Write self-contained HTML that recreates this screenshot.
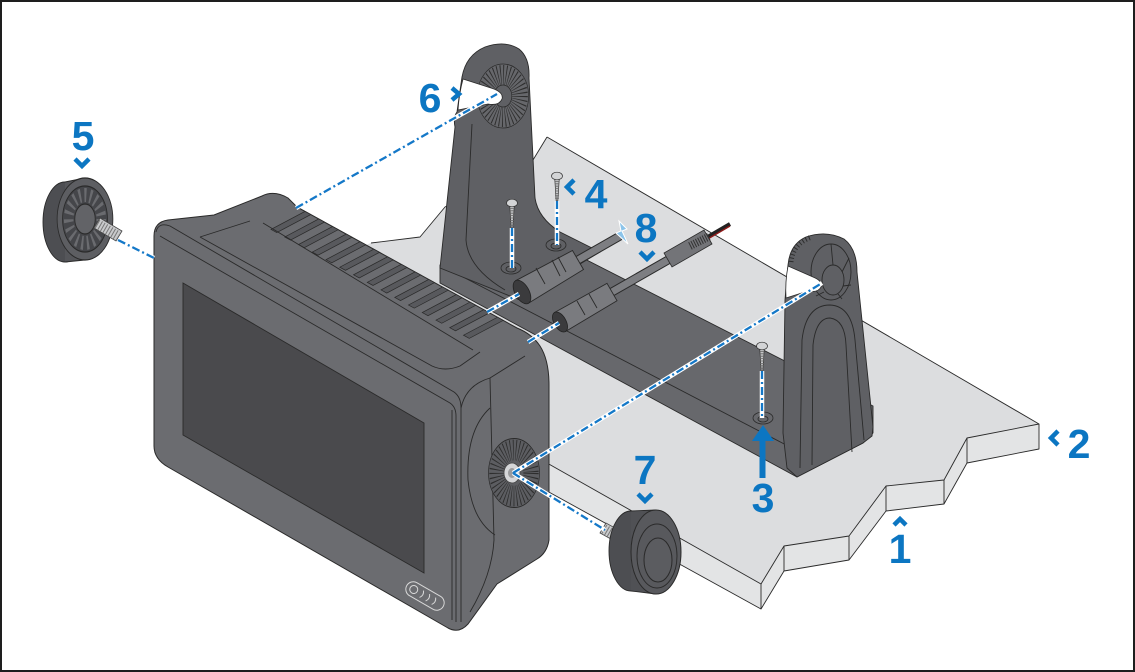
<!DOCTYPE html>
<html><head><meta charset="utf-8"><style>
html,body{margin:0;padding:0;background:#fff}
svg{display:block}
.l{fill:none;stroke:#2a2a2a;stroke-width:.9;stroke-linejoin:round}
.dw{fill:none;stroke:#fff;stroke-width:4.5}
.db{fill:none;stroke:#1478c8;stroke-width:2.3;stroke-dasharray:8 3 2 3}
.t{font-family:"Liberation Sans",Arial,sans-serif;font-weight:bold;font-size:41px;fill:#0c76c2;text-anchor:middle}
.ch{fill:none;stroke:#0c76c2;stroke-width:4.5;stroke-linejoin:miter}
</style></head><body>
<svg width="1135" height="672" viewBox="0 0 1135 672" xmlns="http://www.w3.org/2000/svg">
<defs>
<polygon id="gr" points="305,211.4 310.75,214.56 276.75,232.56 271,229.4" fill="#58595d" stroke="#2a2a2a" stroke-width=".7"/>
<g id="scr">
<polygon points="-2.3,2 2.3,2 0.8,25 -0.8,25" fill="#c5c6c8" stroke="#333" stroke-width=".7"/>
<line x1="0" y1="5" x2="0" y2="24" stroke="#666" stroke-width="4" stroke-dasharray="0.8 1.6"/>
<ellipse cx="0" cy="0" rx="5.5" ry="3.8" fill="#d3d4d6" stroke="#333" stroke-width=".7"/>
</g>
<g id="hole">
<ellipse cx="0" cy="0" rx="10" ry="6" fill="none" stroke="#2a2a2a" stroke-width=".8"/>
<ellipse cx="0" cy="1" rx="5" ry="3" fill="none" stroke="#2a2a2a" stroke-width=".8"/>
</g>
</defs>
<rect x="1" y="1" width="1133" height="670" fill="#fff" stroke="#1e1e1e" stroke-width="2"/>

<!-- platform -->
<polygon fill="#dcdddf" points="547,137 1039,424 967,438 944,480 886,486 849,536 784,546 761,584 547,463 430,470 330,258 371,243 420,237 445,207 533,160"/>
<polygon fill="#e3e4e5" points="1039,424 1039,449 967,463 944,504 886,511 849,560 784,571 761,609 547,491 547,463 761,584 784,546 849,536 886,486 944,480 967,438"/>
<path class="l" d="M547,137 L1039,424 L967,438 L944,480 L886,486 L849,536 L784,546 L761,584 L547,463"/>
<path class="l" d="M1039,424 L1039,449 L967,463 L944,504 L886,511 L849,560 L784,571 L761,609 L547,491"/>
<path class="l" d="M967,438 L967,463 M944,480 L944,504 M886,486 L886,511 M849,536 L849,560 M784,546 L784,571 M761,584 L761,609"/>
<path class="l" d="M547,137 L533,160 L445,207 L420,237 L371,243"/>

<!-- base -->
<polygon fill="#67686c" stroke="#2a2a2a" stroke-width=".9" points="440,265 518,225 873,406 873,433 863,443 797,477 440,283"/>
<path class="l" d="M440,265 L790,447"/>

<!-- left upright -->
<path fill="#5f6064" stroke="#2a2a2a" stroke-width=".9" d="M462,77 Q466,55 485,47 Q505,40 519,49 Q530,58 529,78 L535,198 Q538,218 560,232 L600,252 L520,300 L440,268 L455,127 Q453,117 457,112 Z"/>
<path class="l" d="M472,124 L466,240 Q468,268 505,290"/>
<g transform="translate(503,96) scale(0.8,1)">
<circle r="32" fill="#66676b" stroke="#2a2a2a" stroke-width=".8"/>
<circle r="21" fill="none" stroke="#2e2e2e" stroke-width="20" stroke-dasharray="0.9 2.4"/>
<circle r="11" fill="#5f6064" stroke="#2a2a2a" stroke-width=".8"/>
</g>
<path fill="#fff" stroke="#2a2a2a" stroke-width=".8" d="M458,110 Q459,94 463,79 L491,88 Q504,92 502,99 Q499,106 488,104 Z"/>

<!-- right upright -->
<path fill="#5f6064" stroke="#2a2a2a" stroke-width=".9" d="M788,265 Q790,244 806,237 Q826,230 844,239 Q857,249 857,272 L873,427 L872,436 L863,443 L797,477 L787,468 L783,433 L785,300 Z"/>
<path fill="none" stroke="#2e2e2e" stroke-width="5" stroke-dasharray="1 2.5" d="M791,262 Q793,243 812,237"/>
<ellipse cx="831" cy="272" rx="20" ry="28" class="l"/>
<ellipse cx="833" cy="280" rx="11" ry="15" class="l"/>
<path class="l" d="M831,244 L833,265 M849,258 L842,272 M851,285 L843,286 M842,299 L838,294 M816,296 L824,292"/>
<path class="l" d="M800,468 L802,340 Q806,305 830,305 Q852,306 855,340 L864,440"/>
<path class="l" d="M812,465 L813,345 Q816,318 830,318 Q845,320 846,345 L852,452"/>
<path fill="#fff" stroke="#2a2a2a" stroke-width=".8" d="M788,266 L813,277 Q823,281 821,287 Q818,293 808,291 L786,298 Q785,282 788,266 Z"/>

<!-- holes & screws -->
<use href="#hole" transform="translate(511,268)"/>
<use href="#hole" transform="translate(556,245)"/>
<use href="#hole" transform="translate(763,418)"/>
<use href="#scr" transform="translate(512,203)"/>
<use href="#scr" transform="translate(557,176)"/>
<use href="#scr" transform="translate(762,346)"/>

<!-- connectors -->
<line x1="578" y1="260" x2="620" y2="236" stroke="#2a2a2a" stroke-width="9"/>
<line x1="578" y1="260" x2="620" y2="236" stroke="#7d7e82" stroke-width="7"/>
<polygon points="528.4,303.3 515.6,280.7 572.5,250.5 583.5,269.5" fill="#7a7b7f" stroke="#2a2a2a" stroke-width=".9"/>
<path class="l" d="M545,284 L536,268 M560,276 L552,260 M566,272 L558,257"/>
<ellipse cx="522" cy="292" rx="13" ry="7" transform="rotate(60.3 522 292)" fill="#3b3b3d" stroke="#222" stroke-width=".8"/>
<line x1="730" y1="224" x2="706" y2="238" stroke="#222" stroke-width="4"/>
<line x1="730" y1="226" x2="706" y2="240" stroke="#8b1a1a" stroke-width="1.5"/>
<line x1="612" y1="292" x2="668" y2="260" stroke="#2a2a2a" stroke-width="9"/>
<line x1="612" y1="292" x2="668" y2="260" stroke="#7d7e82" stroke-width="7"/>
<polygon points="664,253 672,267 712,244 704,230" fill="#737478" stroke="#2a2a2a" stroke-width=".8"/>
<line x1="690" y1="246" x2="710" y2="236" stroke="#333" stroke-width="8" stroke-dasharray="1 1.5"/>
<polygon points="565.5,331.5 554.5,312.5 607,283.3 617,300.7" fill="#7a7b7f" stroke="#2a2a2a" stroke-width=".9"/>
<path class="l" d="M585,315 L577,301 M597,308 L589,294"/>
<ellipse cx="560" cy="322" rx="11" ry="6" transform="rotate(60.3 560 322)" fill="#3b3b3d" stroke="#222" stroke-width=".8"/>
<polygon points="619,221 627,229 622,231 628,244 616,233 621,231" fill="#8cc4ea" stroke="#fff" stroke-width="1"/>

<!-- display housing -->
<path fill="#6b6c70" stroke="#2a2a2a" stroke-width="1" d="M154,236 Q154,222 168,220 L214,215 L262,196 Q274,190 288,198 L297,207 L517,328 Q532,334 540,346 Q549,360 549,385 L549,540 Q547,553 537,559 L497,584 L468,624 Q459,634 448,628 L168,467 Q154,459 154,446 Z"/>
<use href="#gr"/>
<use href="#gr" transform="translate(13.75,7.56)"/>
<use href="#gr" transform="translate(27.5,15.12)"/>
<use href="#gr" transform="translate(41.25,22.68)"/>
<use href="#gr" transform="translate(55,30.24)"/>
<use href="#gr" transform="translate(68.75,37.8)"/>
<use href="#gr" transform="translate(82.5,45.36)"/>
<use href="#gr" transform="translate(96.25,52.92)"/>
<use href="#gr" transform="translate(110,60.48)"/>
<use href="#gr" transform="translate(123.75,68.04)"/>
<use href="#gr" transform="translate(137.5,75.6)"/>
<use href="#gr" transform="translate(151.25,83.16)"/>
<use href="#gr" transform="translate(165,90.72)"/>
<use href="#gr" transform="translate(178.75,98.28)"/>
<use href="#gr" transform="translate(192.5,105.84)"/>
<path class="l" d="M263,223 L473,350"/>
<path class="l" d="M200,237 L250,221 M200,237 L432,366 Q445,372 460,366 L480,352"/>
<path class="l" d="M156,232 Q158,222 170,226 L454,392 Q461,397 461,408 L461,622"/>
<path class="l" d="M160,236 L450,403 Q456,407 456,416 L456,622 M452,410 L452,620"/>
<path class="l" d="M461,408 Q466,385 490,378 L525,356 M490,378 L494,540 Q492,575 470,612"/>
<path class="l" d="M490,408 Q466,430 468,480 Q472,520 495,535"/>
<polygon points="183,283 424,423 424,573 183,435" fill="#4a4a4d" stroke="#2a2a2a" stroke-width=".9"/>
<g transform="translate(425,596) rotate(30)" fill="none" stroke="#d8d8d8" stroke-width="1">
<rect x="-21" y="-7.5" width="42" height="15" rx="7.5"/>
<circle cx="-13" cy="0" r="4"/>
<path d="M-4,-4 Q-1,0 -4,4 M3,-4 Q6,0 3,4 M10,-4 Q13,0 10,4"/>
</g>
<!-- hub gear -->
<g transform="translate(514,473) scale(0.85,1.15)">
<circle r="30" fill="#5c5d61" stroke="#2a2a2a" stroke-width=".8"/>
<circle r="20" fill="none" stroke="#2e2e2e" stroke-width="18" stroke-dasharray="0.8 2.3"/>
</g>
<ellipse cx="512" cy="473" rx="8" ry="10" fill="#d5d6d8" stroke="#444" stroke-width=".8"/>
<ellipse cx="512" cy="473" rx="4" ry="5" fill="#9a9b9d"/>

<!-- knob 5 -->
<ellipse cx="65" cy="222" rx="22" ry="40" fill="#4d4e52" stroke="#2a2a2a" stroke-width=".9"/>
<polygon points="65,182 85,178 85,260 65,262" fill="#55565a"/>
<path class="l" d="M65,182 L85,178 M65,262 L85,260"/>
<g transform="translate(85,219) scale(0.68,1)">
<circle r="41" fill="#5d5e62" stroke="#2a2a2a" stroke-width="1.2"/>
<circle r="33" fill="#45464a" stroke="#2a2a2a" stroke-width="1.2"/>
<circle r="24" fill="none" stroke="#6a6b6f" stroke-width="14" stroke-dasharray="3 5"/>
<circle r="15" fill="#626367" stroke="#2a2a2a" stroke-width="1.2"/>
</g>
<polygon points="100,218 122,231 116,241 94,228" fill="#c9cacc" stroke="#444" stroke-width=".8"/>
<line x1="97" y1="224" x2="118" y2="236" stroke="#777" stroke-width="10" stroke-dasharray="1 2"/>

<!-- knob 7 -->
<polygon points="600,533 606,523 633,538 627,548" fill="#c9cacc" stroke="#444" stroke-width=".8"/>
<line x1="604" y1="529" x2="628" y2="543" stroke="#777" stroke-width="10" stroke-dasharray="1 2"/>
<ellipse cx="631" cy="551" rx="22" ry="40" fill="#4d4e52" stroke="#2a2a2a" stroke-width=".9"/>
<polygon points="631,511 656,510 656,594 631,591" fill="#505155"/>
<path class="l" d="M631,511 L656,510 M631,591 L656,594"/>
<ellipse cx="656" cy="552" rx="25" ry="42" fill="#58595d" stroke="#2a2a2a" stroke-width="1"/>
<ellipse cx="657" cy="556" rx="20" ry="32" class="l"/>
<ellipse cx="658" cy="560" rx="14" ry="22" fill="#5b5c60" stroke="#2a2a2a" stroke-width="1"/>

<!-- dash-dot lines -->
<g>
<path class="dw" d="M296,208 L497,94 M118,240 L154,258 M512,228 L512,268 M557,201 L557,245 M487,312 L519,294 M528,342 L559,323 M513,473 L822,283 M513,473 L605,530 M762,371 L762,418"/>
<path class="db" d="M296,208 L497,94 M118,240 L154,258 M512,228 L512,268 M557,201 L557,245 M487,312 L519,294 M528,342 L559,323 M513,473 L822,283 M513,473 L605,530 M762,371 L762,418"/>
</g>

<!-- arrow 3 -->
<rect x="759.5" y="436" width="6" height="42" fill="#0c76c2"/>
<polygon points="752,441 763,425 774,441" fill="#0c76c2"/>

<!-- labels -->
<text class="t" x="83" y="150">5</text>
<text class="t" x="430" y="112">6</text>
<text class="t" x="596" y="208">4</text>
<text class="t" x="646" y="242">8</text>
<text class="t" x="645" y="484">7</text>
<text class="t" x="763" y="512">3</text>
<text class="t" x="1079" y="458">2</text>
<text class="t" x="900" y="563">1</text>
<path class="ch" d="M75,159 L82,166 L89,159"/>
<path class="ch" d="M452,88 L459,94 L452,100"/>
<path class="ch" d="M574,180 L567,187 L574,194"/>
<path class="ch" d="M640,252 L647,259 L654,252"/>
<path class="ch" d="M638,494 L645,501 L652,494"/>
<path class="ch" d="M1058,431 L1051,438 L1058,445"/>
<path class="ch" d="M894,525 L900,519 L906,525"/>
</svg>
</body></html>
